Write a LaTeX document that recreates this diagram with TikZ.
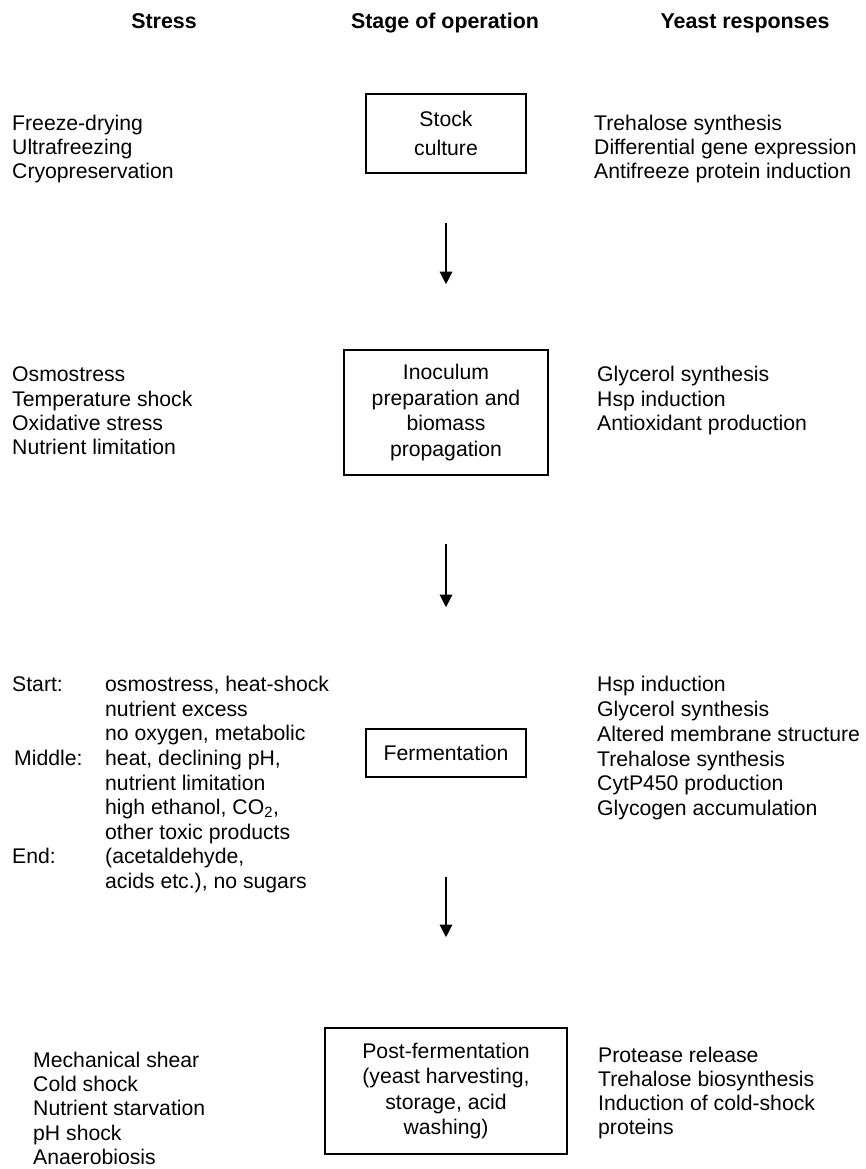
\documentclass[tikz,border=0pt]{standalone}
\usepackage{fontspec}
\setmainfont{Liberation Sans}
\usetikzlibrary{arrows.meta}

\begin{document}
\begin{tikzpicture}[x=1pt,y=-1pt,
  every node/.style={font=\fontsize{21.2}{25.5}\selectfont,inner sep=0pt},
  colhead/.style={font=\fontsize{21.4}{25.5}\selectfont\bfseries,anchor=base},
  coltext/.style={anchor=base west},
  stagebox/.style={draw,line width=1.6pt,align=center},
  flow/.style={line width=1.3pt,-{Triangle[width=12.5pt,length=12.5pt]}}]
  \useasboundingbox (0,0) rectangle (866,1169);
  % column headings
  \node[colhead] (hstress) at (164,29) {Stress};
  \node[colhead] (hstage) at (445,29) {Stage of operation};
  \node[colhead] (hresp) at (745,29) {Yeast responses};
  % stock culture
  \node[stagebox,minimum width=160pt,minimum height=79pt,
    font=\fontsize{21.2}{29}\selectfont] (stock) at (446,133.5) {Stock\\culture};
  \foreach \txt [count=\i] in {Freeze-drying,Ultrafreezing,Cryopreservation}
    \node[coltext] (sstock\i) at (12,{130.7+24*(\i-1)}) {\txt};
  \foreach \txt [count=\i] in {Trehalose synthesis,Differential gene expression,Antifreeze protein induction}
    \node[coltext] (rstock\i) at (594,{130.7+24*(\i-1)}) {\txt};
  % inoculum and propagation
  \node[stagebox,minimum width=204pt,minimum height=125pt] (inoc) at (446,412.5)
    {Inoculum\\preparation and\\biomass\\propagation};
  \foreach \txt [count=\i] in {Osmostress,Temperature shock,Oxidative stress,Nutrient limitation}
    \node[coltext] (sinoc\i) at (12,{381.7+24.3*(\i-1)}) {\txt};
  \foreach \txt [count=\i] in {Glycerol synthesis,Hsp induction,Antioxidant production}
    \node[coltext] (rinoc\i) at (597,{381.7+24.3*(\i-1)}) {\txt};
  % fermentation
  \node[stagebox,minimum width=160pt,minimum height=48pt] (ferm) at (446,753) {Fermentation};
  \node[coltext] (fstart) at (12,691.7) {Start:};
  \node[coltext] (fmiddle) at (14,{691.7+24.6*3}) {Middle:};
  \node[coltext] (fend) at (12,{691.7+24.6*7}) {End:};
  \foreach \txt [count=\i] in {{osmostress, heat-shock},{nutrient excess},{no oxygen, metabolic},
      {heat, declining pH,},{nutrient limitation},{high ethanol, CO\textsubscript{2},},
      {other toxic products},{(acetaldehyde,},{acids etc.), no sugars}}
    \node[coltext] (sferm\i) at (105,{691.7+24.6*(\i-1)}) {\txt};
  \foreach \txt [count=\i] in {Hsp induction,Glycerol synthesis,Altered membrane structure,
      Trehalose synthesis,CytP450 production,Glycogen accumulation}
    \node[coltext] (rferm\i) at (597,{691.7+24.8*(\i-1)}) {\txt};
  % post-fermentation
  \node[stagebox,minimum width=242pt,minimum height=126pt] (post) at (446,1091)
    {Post-fermentation\\(yeast harvesting,\\storage, acid\\washing)};
  \foreach \txt [count=\i] in {Mechanical shear,Cold shock,Nutrient starvation,pH shock,Anaerobiosis}
    \node[coltext] (spost\i) at (33,{1067+24.4*(\i-1)}) {\txt};
  \foreach \txt [count=\i] in {Protease release,Trehalose biosynthesis,Induction of cold-shock,proteins}
    \node[coltext] (rpost\i) at (598,{1062+24.3*(\i-1)}) {\txt};
  % flow of operations
  \draw[flow,shorten <=49pt,shorten >=65pt] (stock) -- (inoc);
  \draw[flow,shorten <=68pt,shorten >=121pt] (inoc) -- (ferm);
  \draw[flow,shorten <=99pt,shorten >=90pt] (ferm) -- (post);
\end{tikzpicture}
\end{document}
